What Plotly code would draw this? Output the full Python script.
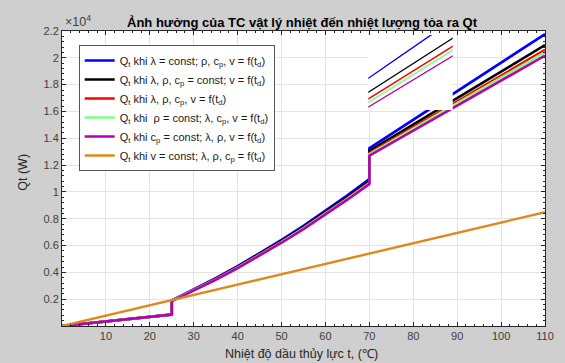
import plotly.graph_objects as go

# ---- data ----
t = [0, 25, 25, 30, 35, 40, 45, 50, 55, 60, 65, 70, 70, 110]
q_lambda_const = [0, 850, 1900, 2710, 3560, 4460, 5410, 6420, 7470, 8580, 9740, 10950, 13250, 21770]
q_lrc_const = [0, 850, 1890, 2690, 3520, 4410, 5350, 6340, 7380, 8470, 9610, 10800, 13050, 20950]
q_all_var = [0, 850, 1880, 2670, 3490, 4370, 5300, 6280, 7310, 8390, 9520, 10700, 12900, 20590]
q_rho_const = [0, 850, 1870, 2650, 3480, 4350, 5280, 6250, 7280, 8350, 9480, 10650, 12800, 20420]
q_cp_const = [0, 850, 1850, 2630, 3450, 4320, 5240, 6210, 7230, 8300, 9420, 10590, 12700, 20170]
t_v = [0, 110]
q_v_const = [0, 8490]

series = [
    ("Q<sub>t</sub> khi λ = const; ρ, c<sub>p</sub>, v = f(t<sub>d</sub>)", q_lambda_const, "#0000ff"),
    ("Q<sub>t</sub> khi λ, ρ, c<sub>p</sub> = const; v = f(t<sub>d</sub>)", q_lrc_const, "#000000"),
    ("Q<sub>t</sub> khi λ, ρ, c<sub>p</sub>, v = f(t<sub>d</sub>)", q_all_var, "#ff0000"),
    ("Q<sub>t</sub> khi  ρ = const; λ, c<sub>p</sub>, v = f(t<sub>d</sub>)", q_rho_const, "#80ff80"),
    ("Q<sub>t</sub> khi c<sub>p</sub> = const; λ, ρ, v = f(t<sub>d</sub>)", q_cp_const, "#b400b4"),
]

x_ticks = [10, 20, 30, 40, 50, 60, 70, 80, 90, 100, 110]
y_ticks = [2000, 4000, 6000, 8000, 10000, 12000, 14000, 16000, 18000, 20000, 22000]
y_ticktext = ["0.2", "0.4", "0.6", "0.8", "1", "1.2", "1.4", "1.6", "1.8", "2", "2.2"]

fig = go.Figure()
for name, ys, col in series:
    fig.add_trace(go.Scatter(x=t, y=ys, mode="lines", name=name,
                             line=dict(color=col, width=2.6)))
fig.add_trace(go.Scatter(x=t_v, y=q_v_const, mode="lines",
                         name="Q<sub>t</sub> khi v = const; λ, ρ, c<sub>p</sub> = f(t<sub>d</sub>)",
                         line=dict(color="#e0881e", width=2.4)))

# inset (zoomed view)
for name, ys, col in series:
    fig.add_trace(go.Scatter(x=t, y=ys, mode="lines", showlegend=False,
                             line=dict(color=col, width=1.4),
                             xaxis="x2", yaxis="y2"))

W, H = 565, 363
L, R, T, B = 62, 11, 31, 37
pw, ph = W - L - R, H - T - B

def px_x(p):
    return (p - L) / pw

def px_y(p):
    return (H - B - p) / ph

axis_col = "#262626"
grid_col = "#e3e3e3"
tick_font = dict(family="Liberation Sans, Arial, sans-serif", size=11, color="#404040")

ix0, ix1, iy0, iy1 = px_x(374), px_x(460), px_y(110), px_y(35)

fig.update_layout(
    width=W, height=H,
    margin=dict(l=L, r=R, t=T, b=B),
    paper_bgcolor="#cfcfcf",
    plot_bgcolor="#ffffff",
    font=dict(family="Liberation Sans, Arial, sans-serif", size=11, color=axis_col),
    showlegend=True,
    legend=dict(x=px_x(79), y=px_y(45), xanchor="left", yanchor="top",
                bgcolor="#ffffff", bordercolor="#555555", borderwidth=1,
                font=dict(size=11, color="#1a1a1a"), tracegroupgap=0,
                itemwidth=30),
    xaxis=dict(range=[0, 110], tickvals=x_ticks, ticks="inside", ticklen=4,
               tickcolor=axis_col, showline=True, linecolor=axis_col, linewidth=1,
               mirror="ticks", showgrid=True, gridcolor=grid_col, zeroline=False,
               tickfont=tick_font,
               minor=dict(ticks="inside", ticklen=2, dtick=2, tickcolor=axis_col, showgrid=False)),
    yaxis=dict(range=[0, 22000], tickvals=y_ticks, ticktext=y_ticktext, ticks="inside",
               ticklen=4, tickcolor=axis_col, showline=True, linecolor=axis_col, linewidth=1,
               mirror="ticks", showgrid=True, gridcolor=grid_col, zeroline=False,
               tickfont=tick_font,
               minor=dict(ticks="inside", ticklen=2, dtick=400, tickcolor=axis_col, showgrid=False)),
    xaxis2=dict(domain=[ix0, ix1], range=[95, 106.5], anchor="y2",
                showgrid=False, showticklabels=False, ticks="", showline=False, zeroline=False),
    yaxis2=dict(domain=[iy0, iy1], range=[17244, 20394], anchor="x2",
                showgrid=False, showticklabels=False, ticks="", showline=False, zeroline=False),
)

# white background behind the upper part of the inset (covers main grid only)
fig.add_shape(type="rect", xref="x2 domain", yref="y2 domain",
              x0=-0.06, x1=1.02, y0=0.42, y1=1.03,
              fillcolor="#ffffff", line=dict(width=0), layer="below")

fig.add_annotation(text="<b>Ảnh hưởng của TC vật lý nhiệt đến nhiệt lượng tỏa ra Qt</b>",
                   xref="paper", yref="paper", x=px_x(307), y=px_y(22),
                   showarrow=False, font=dict(size=13, color="#000000"),
                   xanchor="center", yanchor="middle")
fig.add_annotation(text="×10<sup>4</sup>", xref="paper", yref="paper",
                   x=px_x(63), y=px_y(21), showarrow=False,
                   font=dict(size=12.5, color="#404040"), xanchor="left", yanchor="middle")
fig.add_annotation(text="Qt (W)", xref="paper", yref="paper",
                   x=px_x(22), y=px_y(172), showarrow=False, textangle=-90,
                   font=dict(size=12.5, color=axis_col), xanchor="center", yanchor="middle")
fig.add_annotation(text="Nhiệt độ dầu thủy lực t, (℃)", xref="paper", yref="paper",
                   x=px_x(306), y=px_y(354), showarrow=False,
                   font=dict(size=12.5, color=axis_col), xanchor="center", yanchor="middle")

fig.write_html("out.html", config={"displayModeBar": False},
               post_script="document.body.style.margin='0';document.body.style.padding='0';")
